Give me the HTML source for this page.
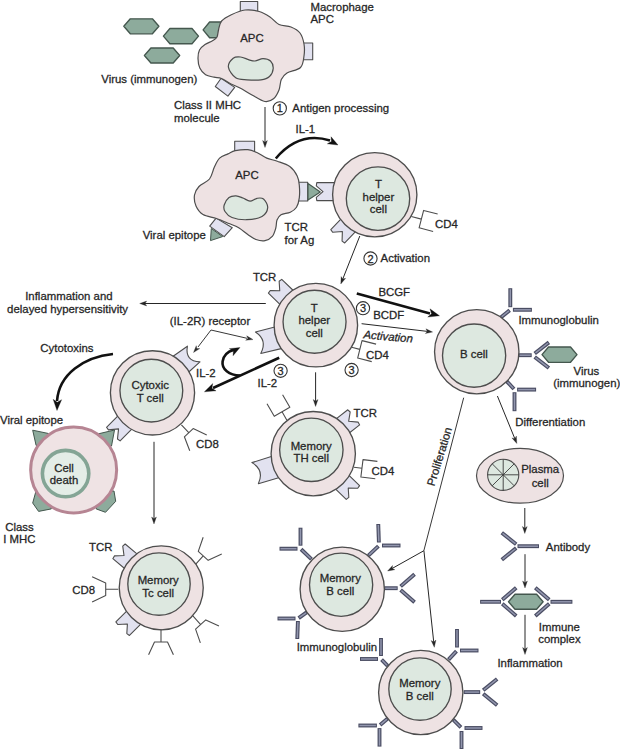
<!DOCTYPE html>
<html><head><meta charset="utf-8"><style>
html,body{margin:0;padding:0;background:#fff;}
svg{display:block;}
text{font-family:"Liberation Sans",sans-serif;fill:#262626;stroke:#262626;stroke-width:0.28px;}
</style></head><body>
<svg width="620" height="750" viewBox="0 0 620 750">
<rect width="620" height="750" fill="#fff"/>
<polygon points="123.8,26.3 130.3,18.8 152.4,18.8 158.9,26.3 152.4,33.8 130.3,33.8" fill="#8dab9c" stroke="#44574e" stroke-width="1.35" stroke-linejoin="round"/>
<polygon points="163.4,36.1 169.9,28.5 192,28.5 198.5,36.1 192,43.7 169.9,43.7" fill="#8dab9c" stroke="#44574e" stroke-width="1.35" stroke-linejoin="round"/>
<polygon points="144.4,55.5 150.9,48 173.2,48 179.7,55.5 173.2,63 150.9,63" fill="#8dab9c" stroke="#44574e" stroke-width="1.35" stroke-linejoin="round"/>
<polygon points="203.1,29.85 209.6,22 231.5,22 238,29.85 231.5,37.7 209.6,37.7" fill="#8dab9c" stroke="#44574e" stroke-width="1.35" stroke-linejoin="round"/>
<polygon points="240.3,1.5 257.7,1.5 257.7,14 240.3,14" fill="#e2e2f0" stroke="#4d4d4d" stroke-width="1.1" stroke-linejoin="round" />
<polygon points="298,43 312.7,43 312.7,59.8 298,59.8" fill="#e2e2f0" stroke="#4d4d4d" stroke-width="1.1" stroke-linejoin="round" />
<polygon points="215.3,86.5 221.1,78.2 234.7,87.4 227.9,96.1" fill="#e2e2f0" stroke="#4d4d4d" stroke-width="1.1" stroke-linejoin="round" />
<path d="M231.3,14.7 C235.2,12.87 240.35,10.53 245,10 C249.65,9.47 255.03,10.33 259.2,11.5 C263.37,12.67 266.7,14.83 270,17 C273.3,19.17 275.5,22.83 279,24.5 C282.5,26.17 287.5,25.58 291,27 C294.5,28.42 297.83,30.17 300,33 C302.17,35.83 303.33,40.17 304,44 C304.67,47.83 304.58,52.08 304,56 C303.42,59.92 303.33,64.67 300.5,67.5 C297.67,70.33 290.2,71 287,73 C283.8,75 282.63,76.67 281.3,79.5 C279.97,82.33 280.3,86.78 279,90 C277.7,93.22 275.87,96.88 273.5,98.8 C271.13,100.72 268.38,102.13 264.8,101.5 C261.22,100.87 256.13,97.25 252,95 C247.87,92.75 243.5,89.83 240,88 C236.5,86.17 234.08,85.58 231,84 C227.92,82.42 224.33,79.63 221.5,78.5 C218.67,77.37 216.65,77.82 214,77.2 C211.35,76.58 207.97,76.33 205.6,74.8 C203.23,73.27 201.07,70.72 199.8,68 C198.53,65.28 198.05,61.5 198,58.5 C197.95,55.5 198.33,52.33 199.5,50 C200.67,47.67 202.83,46.03 205,44.5 C207.17,42.97 210.5,42.05 212.5,40.8 C214.5,39.55 215.98,38.88 217,37 C218.02,35.12 217.83,32.17 218.6,29.5 C219.37,26.83 219.48,23.47 221.6,21 C223.72,18.53 227.4,16.53 231.3,14.7 Z" fill="#eee2e3" stroke="#4d4d4d" stroke-width="1.2"/>
<path d="M228.4,67.1 C227.98,63.83 231.18,59.88 233.2,58.2 C235.22,56.52 237.87,56.73 240.5,57 C243.13,57.27 246.58,59.13 249,59.8 C251.42,60.47 252.67,61.2 255,61 C257.33,60.8 260.42,58.6 263,58.6 C265.58,58.6 268.8,59.35 270.5,61 C272.2,62.65 273.37,65.92 273.2,68.5 C273.03,71.08 271.53,74.62 269.5,76.5 C267.47,78.38 264.75,79.25 261,79.8 C257.25,80.35 251.22,80.13 247,79.8 C242.78,79.47 238.8,79.92 235.7,77.8 C232.6,75.68 228.82,70.37 228.4,67.1 Z" fill="#dde8e0" stroke="#4d4d4d" stroke-width="1.2"/>
<text x="251.9" y="41.7" text-anchor="middle" font-size="11.4" >APC</text>
<text x="310.5" y="10.5" text-anchor="start" font-size="11.4" >Macrophage</text>
<text x="310.5" y="23.4" text-anchor="start" font-size="11.4" >APC</text>
<text x="101.3" y="82.7" text-anchor="start" font-size="11.4" >Virus (immunogen)</text>
<text x="174" y="109.1" text-anchor="start" font-size="11.4" >Class II MHC</text>
<text x="174" y="122.2" text-anchor="start" font-size="11.4" >molecule</text>
<circle cx="279.8" cy="108.4" r="6.6" fill="#fff" stroke="#333" stroke-width="1.1"/>
<text x="279.8" y="112.4" text-anchor="middle" font-size="11" >1</text>
<text x="292.3" y="112" text-anchor="start" font-size="11.4" >Antigen processing</text>
<line x1="265" y1="107" x2="265" y2="142.6" stroke="#262626" stroke-width="1.0"/>
<polygon points="265,147.5 267.4,140.5 265,142.25 262.6,140.5" fill="#262626" stroke="#262626" stroke-width="0.3" stroke-linejoin="round" />
<text x="305.3" y="133.2" text-anchor="middle" font-size="11.4" >IL-1</text>
<polygon points="234.7,141.3 254.6,141.3 254.6,155 234.7,155" fill="#e2e2f0" stroke="#4d4d4d" stroke-width="1.1" stroke-linejoin="round" />
<polygon points="295,182.2 307.7,182.2 307.7,201 295,201" fill="#e2e2f0" stroke="#4d4d4d" stroke-width="1.1" stroke-linejoin="round" />
<polygon points="209.7,226.1 216.1,218.1 232.3,227.7 224.2,236.6" fill="#e2e2f0" stroke="#4d4d4d" stroke-width="1.1" stroke-linejoin="round" />
<path d="M235.3,150.7 C238.62,150 244.23,149.35 247.9,149.7 C251.57,150.05 254.15,151.4 257.3,152.8 C260.45,154.2 263.47,156.7 266.8,158.1 C270.13,159.5 273.47,159.8 277.3,161.2 C281.13,162.6 286.48,164.05 289.8,166.5 C293.12,168.95 295.62,172.77 297.2,175.9 C298.78,179.03 298.95,181.63 299.3,185.3 C299.65,188.97 299.77,194.25 299.3,197.9 C298.83,201.55 298,204.82 296.5,207.2 C295,209.58 292.88,210.93 290.3,212.2 C287.72,213.47 283.22,213.5 281,214.8 C278.78,216.1 277.87,217.8 277,220 C276.13,222.2 276.58,225.27 275.8,228 C275.02,230.73 274.1,234.3 272.3,236.4 C270.5,238.5 267.72,240.08 265,240.6 C262.28,241.12 258.77,240.43 256,239.5 C253.23,238.57 251.28,236.97 248.4,235 C245.52,233.03 241.93,229.62 238.7,227.7 C235.47,225.78 232.7,225.03 229,223.5 C225.3,221.97 220.83,220 216.5,218.5 C212.17,217 206.42,216.58 203,214.5 C199.58,212.42 197.42,209.25 196,206 C194.58,202.75 194,198.25 194.5,195 C195,191.75 196.5,189.17 199,186.5 C201.5,183.83 206.93,182.25 209.5,179 C212.07,175.75 212.72,170.48 214.4,167 C216.08,163.52 217.33,160.28 219.6,158.1 C221.87,155.92 225.38,155.13 228,153.9 C230.62,152.67 231.98,151.4 235.3,150.7 Z" fill="#eee2e3" stroke="#4d4d4d" stroke-width="1.2"/>
<path d="M224.2,205 C224.87,202.67 227.03,199.03 229,197.5 C230.97,195.97 233.67,195.72 236,195.8 C238.33,195.88 240.67,197.12 243,198 C245.33,198.88 247.67,201.05 250,201.1 C252.33,201.15 254.75,198.65 257,198.3 C259.25,197.95 261.72,197.45 263.5,199 C265.28,200.55 267.95,204.68 267.7,207.6 C267.45,210.52 265.48,214.48 262,216.5 C258.52,218.52 251.8,219.53 246.8,219.7 C241.8,219.87 235.63,218.87 232,217.5 C228.37,216.13 226.3,213.58 225,211.5 C223.7,209.42 223.53,207.33 224.2,205 Z" fill="#dde8e0" stroke="#4d4d4d" stroke-width="1.2"/>
<text x="246.9" y="178.8" text-anchor="middle" font-size="11.4" >APC</text>
<polygon points="308,183.5 320.3,192 308,200" fill="#8dab9c" stroke="#44574e" stroke-width="1.1" stroke-linejoin="round" />
<polygon points="211.3,228.5 222.6,236.6 210.5,240.6" fill="#8dab9c" stroke="#44574e" stroke-width="1" stroke-linejoin="round" />
<text x="142.7" y="238.8" text-anchor="start" font-size="11.4" >Viral epitope</text>
<text x="284.5" y="230.8" text-anchor="start" font-size="11.4" >TCR</text>
<text x="284.5" y="243.6" text-anchor="start" font-size="11.4" >for Ag</text>
<path d="M275.8,158.5 Q299,131 330,140.5" fill="none" stroke="#111" stroke-width="2.6"/>
<polygon points="338,145 331.05,136.77 331.38,141.48 327.29,143.84" fill="#111" stroke="#111" stroke-width="0.3" stroke-linejoin="round" />
<polygon points="336,200.6 316.8,200.6 316.3,197.4 323,191.6 316.3,185.8 316.8,182.6 336,182.6" fill="#e2e2f0" stroke="#4d4d4d" stroke-width="1.1" stroke-linejoin="round" />
<polygon points="356.23,230.83 344.73,242.95 342.07,241.11 342.38,231.48 332.78,232.29 330.81,229.73 342.3,217.62" fill="#e2e2f0" stroke="#4d4d4d" stroke-width="1.1" stroke-linejoin="round" />
<circle cx="374.75" cy="194.75" r="42.15" fill="#eee2e3" stroke="#4d4d4d" stroke-width="1.35"/>
<circle cx="378" cy="198.6" r="31.7" fill="#dde8e0" stroke="#4d4d4d" stroke-width="1.35"/>
<text x="378.4" y="187.8" text-anchor="middle" font-size="11.4" >T</text>
<text x="378.4" y="200.5" text-anchor="middle" font-size="11.4" >helper</text>
<text x="378.4" y="213.2" text-anchor="middle" font-size="11.4" >cell</text>
<path d="M411.3,216.5 L421.36,219.12 M437.66,214.07 L423.63,210.41 L419.1,227.83 L433.13,231.49" fill="none" stroke="#4d4d4d" stroke-width="1.1" stroke-linejoin="round"/>
<text x="435" y="228" text-anchor="start" font-size="11.4" >CD4</text>
<circle cx="370.5" cy="258.5" r="6.6" fill="#fff" stroke="#333" stroke-width="1.1"/>
<text x="370.5" y="262.5" text-anchor="middle" font-size="11" >2</text>
<text x="380.6" y="262" text-anchor="start" font-size="11.4" >Activation</text>
<line x1="359.8" y1="236" x2="342.6" y2="279.44" stroke="#262626" stroke-width="1.0"/>
<polygon points="340.8,284 345.61,278.37 342.73,279.12 341.14,276.61" fill="#262626" stroke="#262626" stroke-width="0.3" stroke-linejoin="round" />
<polygon points="280.99,305.29 268.4,293.13 270.26,290.48 279.75,290.74 279.16,281.28 281.74,279.32 294.33,291.48" fill="#e2e2f0" stroke="#4d4d4d" stroke-width="1.1" stroke-linejoin="round" />
<path d="M282.19,348.39 L260.78,353.42 Q267.82,340.33 255.45,332.07 L276.73,326.46 Z" fill="#e2e2f0" stroke="#4d4d4d" stroke-width="1.1" stroke-linejoin="round"/>
<circle cx="315.85" cy="325.15" r="41.75" fill="#eee2e3" stroke="#4d4d4d" stroke-width="1.35"/>
<circle cx="314.55" cy="321.7" r="31.5" fill="#dde8e0" stroke="#4d4d4d" stroke-width="1.35"/>
<text x="314.3" y="311.6" text-anchor="middle" font-size="11.4" >T</text>
<text x="314.3" y="324.3" text-anchor="middle" font-size="11.4" >helper</text>
<text x="314.3" y="337" text-anchor="middle" font-size="11.4" >cell</text>
<text x="252.9" y="280.7" text-anchor="start" font-size="11.4" >TCR</text>
<line x1="265.8" y1="303.5" x2="144.6" y2="303.5" stroke="#262626" stroke-width="1.0"/>
<polygon points="139.7,303.5 146.7,305.9 144.95,303.5 146.7,301.1" fill="#262626" stroke="#262626" stroke-width="0.3" stroke-linejoin="round" />
<text x="25.2" y="299.5" text-anchor="start" font-size="11.4" >Inflammation and</text>
<text x="7.1" y="313" text-anchor="start" font-size="11.4" >delayed hypersensitivity</text>
<text x="169.8" y="324.8" text-anchor="start" font-size="11.4" >(IL-2R) receptor</text>
<path d="M351.6,347.3 L359.85,349.36 M376.09,344.13 L362.02,340.62 L357.67,358.09 L371.74,361.6" fill="none" stroke="#4d4d4d" stroke-width="1.1" stroke-linejoin="round"/>
<text x="366" y="358.5" text-anchor="start" font-size="11.4" >CD4</text>
<circle cx="363" cy="308.2" r="6.6" fill="#fff" stroke="#333" stroke-width="1.1"/>
<text x="363" y="312.2" text-anchor="middle" font-size="11" >3</text>
<text x="378.4" y="296" text-anchor="start" font-size="11.4" >BCGF</text>
<text x="373.2" y="318.8" text-anchor="start" font-size="11.4" >BCDF</text>
<text x="363.5" y="338.3" text-anchor="start" font-size="11.4" font-style="italic" transform="rotate(5 363 336)">Activation</text>
<line x1="356.8" y1="293.6" x2="430" y2="313.4" stroke="#111" stroke-width="2.6"/>
<polygon points="439.5,315.8 429.97,308.85 431.53,313.66 427.77,317.06" fill="#111" stroke="#111" stroke-width="0.3" stroke-linejoin="round" />
<line x1="361.6" y1="323.7" x2="427.73" y2="331.43" stroke="#262626" stroke-width="1.0"/>
<polygon points="432.6,332 425.93,328.8 427.39,331.39 425.37,333.57" fill="#262626" stroke="#262626" stroke-width="0.3" stroke-linejoin="round" />
<path d="M172.04,357.07 L187.4,346.18 Q184.78,361.15 199.96,361.86 L185.98,374.48 Z" fill="#e2e2f0" stroke="#4d4d4d" stroke-width="1.1" stroke-linejoin="round"/>
<polygon points="132.76,428.22 120.1,440.87 117.49,438.96 118.55,428.85 108.44,429.91 106.53,427.3 119.18,414.64" fill="#e2e2f0" stroke="#4d4d4d" stroke-width="1.1" stroke-linejoin="round" />
<circle cx="152.5" cy="392.85" r="42.1" fill="#eee2e3" stroke="#4d4d4d" stroke-width="1.35"/>
<circle cx="151.35" cy="390.6" r="31.4" fill="#dde8e0" stroke="#4d4d4d" stroke-width="1.35"/>
<text x="150.2" y="389.45" text-anchor="middle" font-size="11.4" >Cytoxic</text>
<text x="150.2" y="401.75" text-anchor="middle" font-size="11.4" >T cell</text>
<path d="M181.4,424.8 L188.77,432.7 M206.75,434.95 L193.15,428.61 L184.38,436.79 L189.75,450.79" fill="none" stroke="#4d4d4d" stroke-width="1.1" stroke-linejoin="round"/>
<text x="196" y="448" text-anchor="start" font-size="11.4" >CD8</text>
<text x="196" y="377.3" text-anchor="start" font-size="11.4" >IL-2</text>
<text x="257.5" y="386.8" text-anchor="start" font-size="11.4" >IL-2</text>
<circle cx="280.6" cy="370.8" r="6.6" fill="#fff" stroke="#333" stroke-width="1.1"/>
<text x="280.6" y="374.8" text-anchor="middle" font-size="11" >3</text>
<circle cx="351.6" cy="370" r="6.6" fill="#fff" stroke="#333" stroke-width="1.1"/>
<text x="351.6" y="374" text-anchor="middle" font-size="11" >3</text>
<text x="40.3" y="351.7" text-anchor="start" font-size="11.4" >Cytotoxins</text>
<line x1="211" y1="330" x2="198" y2="347" stroke="#383838" stroke-width="1.0"/>
<polygon points="193.5,352.5 199.76,348.62 196.87,348.48 196.24,345.66" fill="#2a2a2a" stroke="#2a2a2a" stroke-width="0.3" stroke-linejoin="round" />
<line x1="211" y1="330" x2="247" y2="338.3" stroke="#383838" stroke-width="1.0"/>
<polygon points="253,339.6 246.69,335.8 247.88,338.43 245.66,340.28" fill="#2a2a2a" stroke="#2a2a2a" stroke-width="0.3" stroke-linejoin="round" />
<line x1="279.2" y1="357.7" x2="213" y2="388" stroke="#111" stroke-width="2.6"/>
<polygon points="204.4,391.8 216.07,390.86 211.9,388.37 212.74,383.58" fill="#111" stroke="#111" stroke-width="0.3" stroke-linejoin="round" />
<path d="M240,375.5 C229,375.5 221.5,369 222.6,361.5 C223.5,355.5 228,351.5 233.5,350" fill="none" stroke="#111" stroke-width="2.6"/>
<polygon points="240,347.5 229.29,348.66 233.38,351.02 233.05,355.73" fill="#111" stroke="#111" stroke-width="0.3" stroke-linejoin="round" />
<path d="M113,354 C84,357 59,374 57,401" fill="none" stroke="#111" stroke-width="2.6"/>
<polygon points="57,410.5 61.63,399.66 57.29,402.26 53.14,399.36" fill="#111" stroke="#111" stroke-width="0.3" stroke-linejoin="round" />
<line x1="315.6" y1="372.3" x2="315.6" y2="401.6" stroke="#262626" stroke-width="1.0"/>
<polygon points="315.6,406.5 318,399.5 315.6,401.25 313.2,399.5" fill="#262626" stroke="#262626" stroke-width="0.3" stroke-linejoin="round" />
<line x1="154" y1="441.8" x2="154" y2="519.1" stroke="#262626" stroke-width="1.0"/>
<polygon points="154,524 156.4,517 154,518.75 151.6,517" fill="#262626" stroke="#262626" stroke-width="0.3" stroke-linejoin="round" />
<path d="M286.9,420.2 L282.05,411.8 M267.01,403.74 L274.26,416.3 L289.84,407.3 L282.59,394.74" fill="none" stroke="#4d4d4d" stroke-width="1.1" stroke-linejoin="round"/>
<polygon points="334.88,419.88 347.8,409.79 350.16,412 348.67,421.29 358.04,422.09 359.62,424.92 346.7,435.01" fill="#e2e2f0" stroke="#4d4d4d" stroke-width="1.1" stroke-linejoin="round" />
<polygon points="347.71,474.11 359.58,485.57 357.72,488.22 348.24,487.96 348.82,497.43 346.24,499.38 334.37,487.92" fill="#e2e2f0" stroke="#4d4d4d" stroke-width="1.1" stroke-linejoin="round" />
<path d="M279.47,477.53 L258.35,483.67 Q264.69,470.23 251.91,462.64 L272.87,455.92 Z" fill="#e2e2f0" stroke="#4d4d4d" stroke-width="1.1" stroke-linejoin="round"/>
<circle cx="313.25" cy="453.65" r="42.15" fill="#eee2e3" stroke="#4d4d4d" stroke-width="1.35"/>
<circle cx="311.35" cy="449.8" r="31.7" fill="#dde8e0" stroke="#4d4d4d" stroke-width="1.35"/>
<text x="311.2" y="449.5" text-anchor="middle" font-size="11.4" >Memory</text>
<text x="311.2" y="462.1" text-anchor="middle" font-size="11.4" >TH cell</text>
<text x="353.5" y="416.6" text-anchor="start" font-size="11.4" >TCR</text>
<path d="M354,467.3 L361.94,468.27 M377.4,461.36 L363.01,459.59 L360.87,476.96 L375.27,478.73" fill="none" stroke="#4d4d4d" stroke-width="1.1" stroke-linejoin="round"/>
<text x="371.6" y="474.6" text-anchor="start" font-size="11.4" >CD4</text>
<line x1="500.8" y1="317.4" x2="509.68" y2="310.3" stroke="#4a4d63" stroke-width="3.9" stroke-linecap="butt"/>
<line x1="501.58" y1="316.78" x2="508.89" y2="310.92" stroke="#9296ae" stroke-width="1.5" stroke-linecap="butt"/>
<line x1="510.3" y1="307.2" x2="510.3" y2="288.2" stroke="#4a4d63" stroke-width="3.9" stroke-linecap="butt"/>
<line x1="510.3" y1="306.2" x2="510.3" y2="289.2" stroke="#9296ae" stroke-width="1.5" stroke-linecap="butt"/>
<line x1="512.9" y1="309.8" x2="531.9" y2="309.8" stroke="#4a4d63" stroke-width="3.9" stroke-linecap="butt"/>
<line x1="513.9" y1="309.8" x2="530.9" y2="309.8" stroke="#9296ae" stroke-width="1.5" stroke-linecap="butt"/>
<line x1="518.4" y1="355.2" x2="531.7" y2="355.2" stroke="#4a4d63" stroke-width="3.9" stroke-linecap="butt"/>
<line x1="519.4" y1="355.2" x2="530.7" y2="355.2" stroke="#9296ae" stroke-width="1.5" stroke-linecap="butt"/>
<line x1="534.71" y1="353.48" x2="548.89" y2="342.39" stroke="#4a4d63" stroke-width="3.9" stroke-linecap="butt"/>
<line x1="535.49" y1="352.86" x2="548.1" y2="343.01" stroke="#9296ae" stroke-width="1.5" stroke-linecap="butt"/>
<line x1="534.71" y1="356.92" x2="548.89" y2="368.01" stroke="#4a4d63" stroke-width="3.9" stroke-linecap="butt"/>
<line x1="535.49" y1="357.54" x2="548.1" y2="367.39" stroke="#9296ae" stroke-width="1.5" stroke-linecap="butt"/>
<line x1="506.8" y1="381.3" x2="513.96" y2="389.01" stroke="#4a4d63" stroke-width="3.9" stroke-linecap="butt"/>
<line x1="507.48" y1="382.03" x2="513.28" y2="388.28" stroke="#9296ae" stroke-width="1.5" stroke-linecap="butt"/>
<line x1="517.1" y1="389.6" x2="536.1" y2="389.6" stroke="#4a4d63" stroke-width="3.9" stroke-linecap="butt"/>
<line x1="518.1" y1="389.6" x2="535.1" y2="389.6" stroke="#9296ae" stroke-width="1.5" stroke-linecap="butt"/>
<line x1="514.5" y1="392.2" x2="514.5" y2="411.2" stroke="#4a4d63" stroke-width="3.9" stroke-linecap="butt"/>
<line x1="514.5" y1="393.2" x2="514.5" y2="410.2" stroke="#9296ae" stroke-width="1.5" stroke-linecap="butt"/>
<circle cx="476.75" cy="351.75" r="42.2" fill="#eee2e3" stroke="#4d4d4d" stroke-width="1.35"/>
<circle cx="474.1" cy="355.6" r="31.6" fill="#dde8e0" stroke="#4d4d4d" stroke-width="1.35"/>
<text x="473.9" y="358.3" text-anchor="middle" font-size="11.4" >B cell</text>
<polygon points="542,354.65 548.5,347 570.5,347 577,354.65 570.5,362.3 548.5,362.3" fill="#8dab9c" stroke="#44574e" stroke-width="1.35" stroke-linejoin="round"/>
<text x="518.4" y="324.3" text-anchor="start" font-size="11.4" >Immunoglobulin</text>
<text x="586.4" y="374.5" text-anchor="middle" font-size="11.4" >Virus</text>
<text x="553.2" y="387.1" text-anchor="start" font-size="11.4" >(immunogen)</text>
<text x="515.2" y="425.5" text-anchor="start" font-size="11.4" >Differentiation</text>
<line x1="497.4" y1="396" x2="514.95" y2="438.96" stroke="#262626" stroke-width="1.0"/>
<polygon points="516.8,443.5 516.38,436.11 514.81,438.64 511.93,437.93" fill="#262626" stroke="#262626" stroke-width="0.3" stroke-linejoin="round" />
<line x1="463.7" y1="397.7" x2="423.9" y2="550.5" stroke="#383838" stroke-width="1.0"/>
<line x1="423.9" y1="550.7" x2="391.88" y2="568.61" stroke="#262626" stroke-width="1.0"/>
<polygon points="387.6,571 394.88,569.68 392.18,568.44 392.54,565.49" fill="#262626" stroke="#262626" stroke-width="0.3" stroke-linejoin="round" />
<line x1="423.9" y1="550.5" x2="433.78" y2="642.43" stroke="#262626" stroke-width="1.0"/>
<polygon points="434.3,647.3 435.94,640.08 433.74,642.08 431.17,640.6" fill="#262626" stroke="#262626" stroke-width="0.3" stroke-linejoin="round" />
<text x="439.4" y="460.5" text-anchor="middle" font-size="11.4" transform="rotate(-73 439.4 456.5)">Proliferation</text>
<ellipse cx="520" cy="475.8" rx="43.5" ry="27.4" fill="#eee2e3" stroke="#4d4d4d" stroke-width="1.2"/>
<circle cx="503.2" cy="474.8" r="15.6" fill="#dde8e0" stroke="#4d4d4d" stroke-width="1.1"/>
<line x1="487.6" y1="474.8" x2="518.8" y2="474.8" stroke="#3a3a3a" stroke-width="0.9"/>
<line x1="492.17" y1="463.77" x2="514.23" y2="485.83" stroke="#3a3a3a" stroke-width="0.9"/>
<line x1="503.2" y1="459.2" x2="503.2" y2="490.4" stroke="#3a3a3a" stroke-width="0.9"/>
<line x1="514.23" y1="463.77" x2="492.17" y2="485.83" stroke="#3a3a3a" stroke-width="0.9"/>
<text x="540.2" y="472.5" text-anchor="middle" font-size="11.4" >Plasma</text>
<text x="540.2" y="487" text-anchor="middle" font-size="11.4" >cell</text>
<line x1="524.8" y1="508" x2="524.8" y2="528.6" stroke="#262626" stroke-width="1.0"/>
<polygon points="524.8,533.5 527.2,526.5 524.8,528.25 522.4,526.5" fill="#262626" stroke="#262626" stroke-width="0.3" stroke-linejoin="round" />
<line x1="539" y1="546.2" x2="517.5" y2="546.2" stroke="#4a4d63" stroke-width="3.9" stroke-linecap="butt"/>
<line x1="538" y1="546.2" x2="518.5" y2="546.2" stroke="#9296ae" stroke-width="1.5" stroke-linecap="butt"/>
<line x1="516.17" y1="548.09" x2="501.79" y2="559.73" stroke="#4a4d63" stroke-width="3.9" stroke-linecap="butt"/>
<line x1="515.39" y1="548.72" x2="502.57" y2="559.1" stroke="#9296ae" stroke-width="1.5" stroke-linecap="butt"/>
<line x1="516.17" y1="544.31" x2="501.79" y2="532.67" stroke="#4a4d63" stroke-width="3.9" stroke-linecap="butt"/>
<line x1="515.39" y1="543.68" x2="502.57" y2="533.3" stroke="#9296ae" stroke-width="1.5" stroke-linecap="butt"/>
<text x="545.8" y="550.8" text-anchor="start" font-size="11.4" >Antibody</text>
<line x1="525" y1="554.2" x2="525" y2="583.1" stroke="#262626" stroke-width="1.0"/>
<polygon points="525,588 527.4,581 525,582.75 522.6,581" fill="#262626" stroke="#262626" stroke-width="0.3" stroke-linejoin="round" />
<polygon points="508.5,601.7 515,594.2 536.6,594.2 543.1,601.7 536.6,609.2 515,609.2" fill="#8dab9c" stroke="#44574e" stroke-width="1.35" stroke-linejoin="round"/>
<line x1="480.1" y1="601.8" x2="501" y2="601.8" stroke="#4a4d63" stroke-width="3.9" stroke-linecap="butt"/>
<line x1="481.1" y1="601.8" x2="500" y2="601.8" stroke="#9296ae" stroke-width="1.5" stroke-linecap="butt"/>
<line x1="502.26" y1="599.83" x2="516.23" y2="587.69" stroke="#4a4d63" stroke-width="3.9" stroke-linecap="butt"/>
<line x1="503.02" y1="599.18" x2="515.47" y2="588.35" stroke="#9296ae" stroke-width="1.5" stroke-linecap="butt"/>
<line x1="502.26" y1="603.77" x2="516.23" y2="615.91" stroke="#4a4d63" stroke-width="3.9" stroke-linecap="butt"/>
<line x1="503.02" y1="604.42" x2="515.47" y2="615.25" stroke="#9296ae" stroke-width="1.5" stroke-linecap="butt"/>
<line x1="572.4" y1="601.8" x2="550.5" y2="601.8" stroke="#4a4d63" stroke-width="3.9" stroke-linecap="butt"/>
<line x1="571.4" y1="601.8" x2="551.5" y2="601.8" stroke="#9296ae" stroke-width="1.5" stroke-linecap="butt"/>
<line x1="549.24" y1="599.83" x2="535.27" y2="587.69" stroke="#4a4d63" stroke-width="3.9" stroke-linecap="butt"/>
<line x1="548.48" y1="599.18" x2="536.03" y2="588.35" stroke="#9296ae" stroke-width="1.5" stroke-linecap="butt"/>
<line x1="549.24" y1="603.77" x2="535.27" y2="615.91" stroke="#4a4d63" stroke-width="3.9" stroke-linecap="butt"/>
<line x1="548.48" y1="604.42" x2="536.03" y2="615.25" stroke="#9296ae" stroke-width="1.5" stroke-linecap="butt"/>
<text x="559.4" y="630.5" text-anchor="middle" font-size="11.4" >Immune</text>
<text x="559.4" y="642.8" text-anchor="middle" font-size="11.4" >complex</text>
<line x1="525" y1="614.8" x2="525" y2="649.6" stroke="#262626" stroke-width="1.0"/>
<polygon points="525,654.5 527.4,647.5 525,649.25 522.6,647.5" fill="#262626" stroke="#262626" stroke-width="0.3" stroke-linejoin="round" />
<text x="497.4" y="666.6" text-anchor="start" font-size="11.4" >Inflammation</text>
<g fill="#8dab9c" stroke="#44574e" stroke-width="1" stroke-linejoin="round">
<polygon points="32.7,430.2 48.5,433.5 50,446 36.1,445.4"/>
<polygon points="114.5,430 98.5,433.8 99,447 111.5,446"/>
<polygon points="36,491 32.7,503 38.6,511.4 51.3,508.9 50,492"/>
<polygon points="114,491 115.7,501.3 105.5,512.3 96.2,508.9 97,492"/>
</g>
<circle cx="73.65" cy="469.9" r="43" fill="#efe3e4" stroke="#b68593" stroke-width="3"/>
<circle cx="65.6" cy="473.6" r="23.2" fill="#e4ede7" stroke="#84a595" stroke-width="3.6"/>
<text x="64" y="472.4" text-anchor="middle" font-size="11.4" >Cell</text>
<text x="64" y="484" text-anchor="middle" font-size="11.4" >death</text>
<text x="0" y="424.1" text-anchor="start" font-size="11.4" >Viral epitope</text>
<text x="19.4" y="530.5" text-anchor="middle" font-size="11.4" >Class</text>
<text x="19.4" y="543.4" text-anchor="middle" font-size="11.4" >I MHC</text>
<polygon points="125.48,569.28 112.84,558.68 114.51,555.9 123.99,555.5 122.74,546.1 125.18,543.97 137.82,554.57" fill="#e2e2f0" stroke="#4d4d4d" stroke-width="1.1" stroke-linejoin="round" />
<polygon points="141.26,623.67 129.45,635.48 126.83,633.57 127.4,623.95 117.78,624.52 115.87,621.9 127.68,610.09" fill="#e2e2f0" stroke="#4d4d4d" stroke-width="1.1" stroke-linejoin="round" />
<circle cx="161.25" cy="587.85" r="42" fill="#eee2e3" stroke="#4d4d4d" stroke-width="1.35"/>
<circle cx="159" cy="584.05" r="31.2" fill="#dde8e0" stroke="#4d4d4d" stroke-width="1.35"/>
<text x="158.2" y="583.7" text-anchor="middle" font-size="11.4" >Memory</text>
<text x="158.2" y="596.7" text-anchor="middle" font-size="11.4" >Tc cell</text>
<text x="89" y="550.7" text-anchor="start" font-size="11.4" >TCR</text>
<path d="M118.3,589.3 L105.7,589.3 M92.11,601.94 L105.7,595.6 L105.7,583 L92.11,576.66" fill="none" stroke="#4d4d4d" stroke-width="1.1" stroke-linejoin="round"/>
<text x="72.2" y="593.7" text-anchor="start" font-size="11.4" >CD8</text>
<path d="M196,563.9 L203.23,555.87 M203.17,537.24 L198.28,551.42 L208.17,560.32 L221.76,553.98" fill="none" stroke="#4d4d4d" stroke-width="1.1" stroke-linejoin="round"/>
<path d="M192.2,615.2 L200.68,624.52 M218.96,625.93 L205.78,619.88 L195.58,629.16 L200.37,642.85" fill="none" stroke="#4d4d4d" stroke-width="1.1" stroke-linejoin="round"/>
<path d="M161,629 L161,642 M173.42,654.69 L167.5,642 L154.5,642 L148.58,654.69" fill="none" stroke="#4d4d4d" stroke-width="1.1" stroke-linejoin="round"/>
<line x1="311.4" y1="559.1" x2="301.08" y2="549.25" stroke="#4a4d63" stroke-width="3.9" stroke-linecap="butt"/>
<line x1="310.68" y1="558.41" x2="301.8" y2="549.94" stroke="#9296ae" stroke-width="1.5" stroke-linecap="butt"/>
<line x1="300.5" y1="545.7" x2="300.5" y2="527.7" stroke="#4a4d63" stroke-width="3.9" stroke-linecap="butt"/>
<line x1="300.5" y1="544.7" x2="300.5" y2="528.7" stroke="#9296ae" stroke-width="1.5" stroke-linecap="butt"/>
<line x1="297.5" y1="548.7" x2="279.5" y2="548.7" stroke="#4a4d63" stroke-width="3.9" stroke-linecap="butt"/>
<line x1="296.5" y1="548.7" x2="280.5" y2="548.7" stroke="#9296ae" stroke-width="1.5" stroke-linecap="butt"/>
<line x1="368.3" y1="555.6" x2="378.42" y2="546.05" stroke="#4a4d63" stroke-width="3.9" stroke-linecap="butt"/>
<line x1="369.03" y1="554.91" x2="377.69" y2="546.74" stroke="#9296ae" stroke-width="1.5" stroke-linecap="butt"/>
<line x1="378.9" y1="542.5" x2="378.25" y2="524.01" stroke="#4a4d63" stroke-width="3.9" stroke-linecap="butt"/>
<line x1="378.86" y1="541.5" x2="378.28" y2="525.01" stroke="#9296ae" stroke-width="1.5" stroke-linecap="butt"/>
<line x1="382" y1="545.5" x2="400.5" y2="545.5" stroke="#4a4d63" stroke-width="3.9" stroke-linecap="butt"/>
<line x1="383" y1="545.5" x2="399.5" y2="545.5" stroke="#9296ae" stroke-width="1.5" stroke-linecap="butt"/>
<line x1="384.2" y1="588.2" x2="397.7" y2="588.2" stroke="#4a4d63" stroke-width="3.9" stroke-linecap="butt"/>
<line x1="385.2" y1="588.2" x2="396.7" y2="588.2" stroke="#9296ae" stroke-width="1.5" stroke-linecap="butt"/>
<line x1="400.61" y1="586.36" x2="414.58" y2="574.23" stroke="#4a4d63" stroke-width="3.9" stroke-linecap="butt"/>
<line x1="401.37" y1="585.71" x2="413.82" y2="574.88" stroke="#9296ae" stroke-width="1.5" stroke-linecap="butt"/>
<line x1="400.61" y1="590.04" x2="414.58" y2="602.17" stroke="#4a4d63" stroke-width="3.9" stroke-linecap="butt"/>
<line x1="401.37" y1="590.69" x2="413.82" y2="601.52" stroke="#9296ae" stroke-width="1.5" stroke-linecap="butt"/>
<line x1="306.9" y1="612.2" x2="298.65" y2="618.04" stroke="#4a4d63" stroke-width="3.9" stroke-linecap="butt"/>
<line x1="306.08" y1="612.78" x2="299.47" y2="617.46" stroke="#9296ae" stroke-width="1.5" stroke-linecap="butt"/>
<line x1="295.5" y1="618.5" x2="277.5" y2="618.5" stroke="#4a4d63" stroke-width="3.9" stroke-linecap="butt"/>
<line x1="294.5" y1="618.5" x2="278.5" y2="618.5" stroke="#9296ae" stroke-width="1.5" stroke-linecap="butt"/>
<line x1="297.91" y1="621" x2="297.28" y2="638.99" stroke="#4a4d63" stroke-width="3.9" stroke-linecap="butt"/>
<line x1="297.88" y1="622" x2="297.32" y2="637.99" stroke="#9296ae" stroke-width="1.5" stroke-linecap="butt"/>
<circle cx="342.25" cy="589.25" r="42.15" fill="#eee2e3" stroke="#4d4d4d" stroke-width="1.35"/>
<circle cx="341.1" cy="584.7" r="31.6" fill="#dde8e0" stroke="#4d4d4d" stroke-width="1.35"/>
<text x="340.3" y="582.4" text-anchor="middle" font-size="11.4" >Memory</text>
<text x="340.3" y="595.4" text-anchor="middle" font-size="11.4" >B cell</text>
<text x="296.7" y="650.5" text-anchor="start" font-size="11.4" >Immunoglobulin</text>
<line x1="387.7" y1="665.9" x2="381.56" y2="659.57" stroke="#4a4d63" stroke-width="3.9" stroke-linecap="butt"/>
<line x1="387" y1="665.18" x2="382.25" y2="660.29" stroke="#9296ae" stroke-width="1.5" stroke-linecap="butt"/>
<line x1="381" y1="656" x2="381" y2="638" stroke="#4a4d63" stroke-width="3.9" stroke-linecap="butt"/>
<line x1="381" y1="655" x2="381" y2="639" stroke="#9296ae" stroke-width="1.5" stroke-linecap="butt"/>
<line x1="378" y1="659" x2="360" y2="659" stroke="#4a4d63" stroke-width="3.9" stroke-linecap="butt"/>
<line x1="377" y1="659" x2="361" y2="659" stroke="#9296ae" stroke-width="1.5" stroke-linecap="butt"/>
<line x1="448.5" y1="659.6" x2="456.45" y2="651.08" stroke="#4a4d63" stroke-width="3.9" stroke-linecap="butt"/>
<line x1="449.18" y1="658.87" x2="455.77" y2="651.82" stroke="#9296ae" stroke-width="1.5" stroke-linecap="butt"/>
<line x1="457" y1="647.5" x2="457" y2="629" stroke="#4a4d63" stroke-width="3.9" stroke-linecap="butt"/>
<line x1="457" y1="646.5" x2="457" y2="630" stroke="#9296ae" stroke-width="1.5" stroke-linecap="butt"/>
<line x1="460" y1="650.5" x2="478.5" y2="650.5" stroke="#4a4d63" stroke-width="3.9" stroke-linecap="butt"/>
<line x1="461" y1="650.5" x2="477.5" y2="650.5" stroke="#9296ae" stroke-width="1.5" stroke-linecap="butt"/>
<line x1="463.7" y1="692.1" x2="480.2" y2="692.1" stroke="#4a4d63" stroke-width="3.9" stroke-linecap="butt"/>
<line x1="464.7" y1="692.1" x2="479.2" y2="692.1" stroke="#9296ae" stroke-width="1.5" stroke-linecap="butt"/>
<line x1="483.18" y1="690.34" x2="497.16" y2="679.01" stroke="#4a4d63" stroke-width="3.9" stroke-linecap="butt"/>
<line x1="483.95" y1="689.71" x2="496.39" y2="679.64" stroke="#9296ae" stroke-width="1.5" stroke-linecap="butt"/>
<line x1="483.18" y1="693.86" x2="497.16" y2="705.19" stroke="#4a4d63" stroke-width="3.9" stroke-linecap="butt"/>
<line x1="483.95" y1="694.49" x2="496.39" y2="704.56" stroke="#9296ae" stroke-width="1.5" stroke-linecap="butt"/>
<line x1="387.7" y1="718.5" x2="380.11" y2="724.98" stroke="#4a4d63" stroke-width="3.9" stroke-linecap="butt"/>
<line x1="386.94" y1="719.15" x2="380.87" y2="724.33" stroke="#9296ae" stroke-width="1.5" stroke-linecap="butt"/>
<line x1="376.9" y1="725.5" x2="358.4" y2="725.5" stroke="#4a4d63" stroke-width="3.9" stroke-linecap="butt"/>
<line x1="375.9" y1="725.5" x2="359.4" y2="725.5" stroke="#9296ae" stroke-width="1.5" stroke-linecap="butt"/>
<line x1="379.5" y1="728.1" x2="379.5" y2="746.6" stroke="#4a4d63" stroke-width="3.9" stroke-linecap="butt"/>
<line x1="379.5" y1="729.1" x2="379.5" y2="745.6" stroke="#9296ae" stroke-width="1.5" stroke-linecap="butt"/>
<line x1="453.2" y1="719.7" x2="460.93" y2="727.43" stroke="#4a4d63" stroke-width="3.9" stroke-linecap="butt"/>
<line x1="453.91" y1="720.41" x2="460.23" y2="726.73" stroke="#9296ae" stroke-width="1.5" stroke-linecap="butt"/>
<line x1="464.5" y1="728" x2="482.5" y2="728" stroke="#4a4d63" stroke-width="3.9" stroke-linecap="butt"/>
<line x1="465.5" y1="728" x2="481.5" y2="728" stroke="#9296ae" stroke-width="1.5" stroke-linecap="butt"/>
<line x1="461.5" y1="731" x2="461.5" y2="749" stroke="#4a4d63" stroke-width="3.9" stroke-linecap="butt"/>
<line x1="461.5" y1="732" x2="461.5" y2="748" stroke="#9296ae" stroke-width="1.5" stroke-linecap="butt"/>
<circle cx="420.75" cy="692.5" r="42.15" fill="#eee2e3" stroke="#4d4d4d" stroke-width="1.35"/>
<circle cx="420" cy="689.05" r="31.2" fill="#dde8e0" stroke="#4d4d4d" stroke-width="1.35"/>
<text x="419.8" y="687.1" text-anchor="middle" font-size="11.4" >Memory</text>
<text x="419.8" y="699.9" text-anchor="middle" font-size="11.4" >B cell</text>
</svg></body></html>
